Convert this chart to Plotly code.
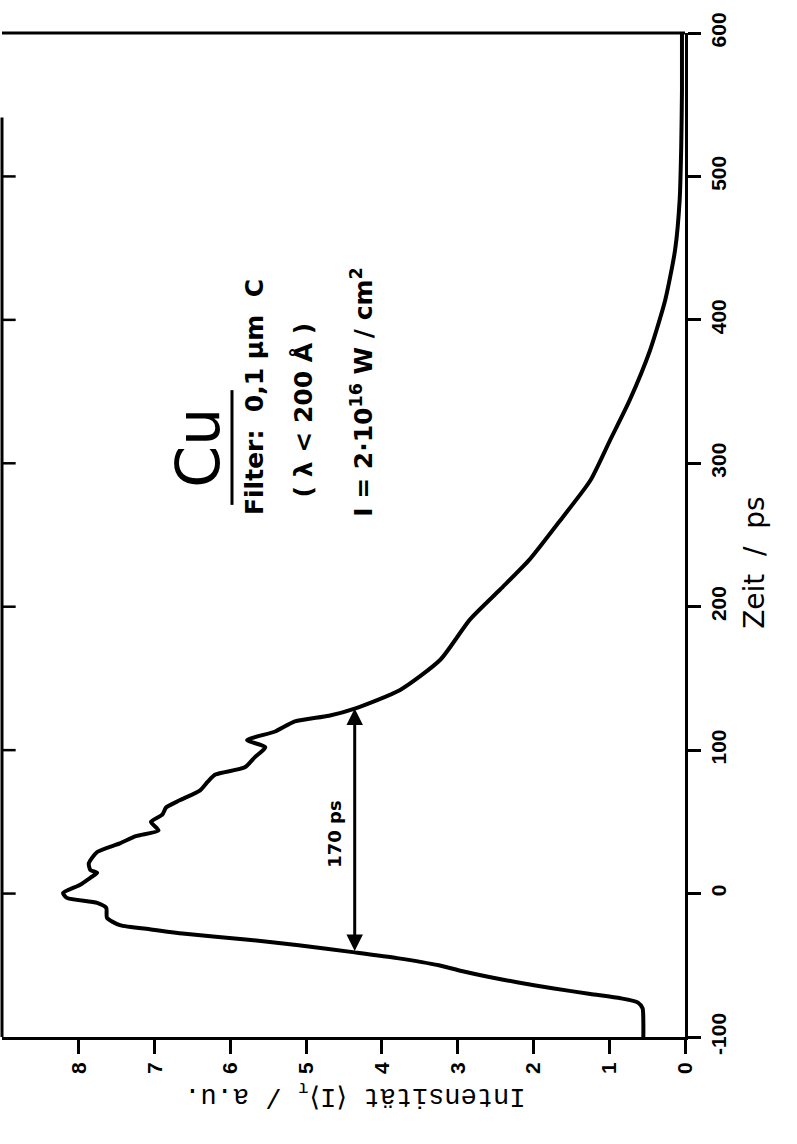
import plotly.graph_objects as go

# Streak-camera trace: time (ps) vs. time-resolved intensity (a.u.)
time_ps = [-100, -90, -80, -76, -73, -70, -66, -62, -58, -54, -50, -45, -41, -36, -32,
           -28, -25, -22, -17, -10, -6.5, -3, 0.4, 6, 11, 14.4, 16.5, 21, 29, 35,
           40, 44, 50, 55, 60, 65, 72, 78, 83, 88, 95, 102, 107, 113, 120, 124, 129,
           142, 163, 191, 212, 233, 260, 288, 316, 344, 379, 414, 449, 484, 520, 560, 600]
intensity = [0.55, 0.55, 0.56, 0.62, 0.85, 1.25, 1.75, 2.2, 2.6, 2.95, 3.25, 3.8, 4.36, 5.1, 5.8,
             6.6, 7.05, 7.46, 7.63, 7.64, 7.76, 8.16, 8.21, 7.99, 7.85, 7.76, 7.85, 7.87, 7.76, 7.46,
             7.25, 6.95, 7.05, 6.9, 6.85, 6.67, 6.4, 6.3, 6.2, 5.81, 5.68, 5.54, 5.78, 5.41, 5.15, 4.7, 4.36,
             3.76, 3.23, 2.84, 2.44, 2.05, 1.65, 1.25, 0.99, 0.73, 0.46, 0.26, 0.13, 0.07, 0.05, 0.04, 0.04]

x_ticks = [0, 1, 2, 3, 4, 5, 6, 7, 8]
t_ticks = [-100, 0, 100, 200, 300, 400, 500, 600]
left_ticks = [0, 100, 200, 300, 400, 500]

# Full width at half maximum marker
fwhm_ps = 170
fwhm_start = -41
fwhm_level = 4.36
fwhm_end = fwhm_start + fwhm_ps

tick_font = dict(family="Liberation Sans", size=21, color="black", weight="bold")

fig = go.Figure()
fig.add_trace(go.Scatter(
    x=intensity, y=time_ps, mode="lines",
    line=dict(color="black", width=4, shape="spline", smoothing=0.6),
    showlegend=False, hoverinfo="skip",
))

fig.update_layout(
    width=797, height=1144,
    margin=dict(l=2, r=112, t=33, b=107),
    paper_bgcolor="white", plot_bgcolor="white",
    xaxis=dict(
        range=[9.016, 0], tickvals=x_ticks, ticktext=[str(v) for v in x_ticks],
        ticks="outside", ticklen=14, tickwidth=2.5, tickcolor="black",
        showline=True, linewidth=3, linecolor="black",
        showgrid=False, zeroline=False, tickangle=-90, tickfont=tick_font,
    ),
    yaxis=dict(
        range=[-100, 600], tickvals=t_ticks, ticktext=[str(v) for v in t_ticks],
        side="right", ticks="outside", ticklen=13, tickwidth=2.5, tickcolor="black",
        showline=True, linewidth=3, linecolor="black",
        showgrid=False, zeroline=False, tickangle=-90, tickfont=tick_font,
    ),
)

# Frame: top edge and left edge (left edge open near the top)
fig.add_shape(type="line", xref="paper", yref="paper", x0=0, x1=1.0, y0=1.0, y1=1.0,
              line=dict(color="black", width=3), layer="above")
fig.add_shape(type="line", xref="paper", yref="y", x0=0, x1=0, y0=-100, y1=541,
              line=dict(color="black", width=3))

# Inward-pointing ticks along the left edge
for t in left_ticks:
    fig.add_shape(type="line", xref="paper", yref="y", x0=0, x1=0.02, y0=t, y1=t,
                  line=dict(color="black", width=2.5))

# FWHM double arrow
fig.add_annotation(
    x=fwhm_level, y=fwhm_end, ax=fwhm_level, ay=fwhm_start,
    xref="x", yref="y", axref="x", ayref="y", text="",
    showarrow=True, arrowhead=2, startarrowhead=2, arrowside="end+start",
    arrowwidth=3, arrowsize=1.1, startarrowsize=1.1, arrowcolor="black",
)
fig.add_annotation(
    x=4.62, y=41, xref="x", yref="y", text=f"{fwhm_ps} ps", showarrow=False,
    textangle=-90, font=dict(family="DejaVu Sans", size=18, color="black", weight="bold"),
)

# Element and measurement conditions
fig.add_annotation(x=6.44, y=311, xref="x", yref="y", text="Cu", showarrow=False,
                   textangle=-90, font=dict(family="DejaVu Sans", size=60, color="black"))
fig.add_shape(type="line", xref="x", yref="y", x0=5.98, x1=5.98, y0=271, y1=351,
              line=dict(color="black", width=3))
fig.add_annotation(x=5.68, y=346, xref="x", yref="y", text="Filter:\u00a0 0,1 µm\u00a0 C",
                   showarrow=False, textangle=-90,
                   font=dict(family="DejaVu Sans", size=25, color="black", weight="bold"))
fig.add_annotation(x=5.04, y=337, xref="x", yref="y", text="( λ < 200 Å )",
                   showarrow=False, textangle=-90,
                   font=dict(family="DejaVu Sans", size=25, color="black", weight="bold"))
fig.add_annotation(x=4.26, y=350, xref="x", yref="y",
                   text="I = 2·10<sup>16</sup> W / cm<sup>2</sup>",
                   showarrow=False, textangle=-90,
                   font=dict(family="DejaVu Sans", size=25, color="black", weight="bold"))

# Axis titles
fig.add_annotation(x=1.129, y=231, xref="paper", yref="y", text="Zeit\u00a0 /\u00a0 ps",
                   showarrow=False, textangle=-90,
                   font=dict(family="DejaVu Sans", size=28, color="black"))
fig.add_annotation(x=4.36, y=-0.0757, xref="x", yref="paper",
                   text="Intensität ⟨I⟩<sub>τ</sub> / a.u.",
                   showarrow=False, textangle=180,
                   font=dict(family="Liberation Mono", size=27, color="black"))

fig.write_html("out.html")
